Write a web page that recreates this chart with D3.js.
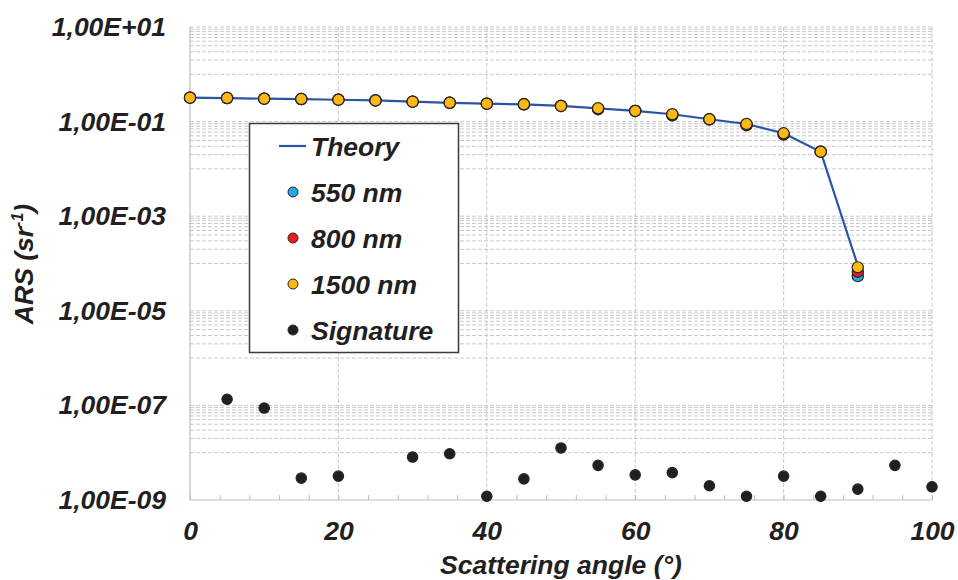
<!DOCTYPE html>
<html>
<head>
<meta charset="utf-8">
<script src="https://cdn.jsdelivr.net/npm/d3@7"></script>
<style>
  html, body { margin: 0; padding: 0; background: #fff; }
  svg { display: block; font-family: "Liberation Sans", Arial, sans-serif; }
</style>
</head>
<body>
<svg id="chart" width="958" height="580"></svg>
<script>
// angles (deg) for the measured / theory points
const angles = [0, 5, 10, 15, 20, 25, 30, 35, 40, 45, 50, 55, 60, 65, 70, 75, 80, 85, 90];

// ARS values (sr^-1)
const theory = [0.32, 0.315, 0.305, 0.30, 0.29, 0.28, 0.264, 0.25, 0.239, 0.232, 0.214, 0.191, 0.168, 0.143, 0.112, 0.089, 0.0566, 0.0231, 9.0e-5];
const nm550  = [0.32, 0.315, 0.305, 0.30, 0.29, 0.28, 0.264, 0.25, 0.239, 0.232, 0.214, 0.183, 0.168, 0.136, 0.112, 0.084, 0.0535, 0.0231, 5.4e-5];
const nm800  = [0.32, 0.315, 0.305, 0.30, 0.29, 0.28, 0.264, 0.25, 0.239, 0.232, 0.214, 0.185, 0.168, 0.138, 0.112, 0.085, 0.054, 0.0231, 6.7e-5];
const nm1500 = [0.32, 0.315, 0.305, 0.30, 0.29, 0.28, 0.264, 0.25, 0.239, 0.232, 0.214, 0.191, 0.168, 0.143, 0.112, 0.089, 0.0566, 0.0231, 8.3e-5];

// instrument signature
const sigAngles = [5, 10, 15, 20, 30, 35, 40, 45, 50, 55, 60, 65, 70, 75, 80, 85, 90, 95, 100];
const signature = [1.35e-7, 8.8e-8, 2.9e-9, 3.2e-9, 8.1e-9, 9.5e-9, 1.2e-9, 2.8e-9, 1.26e-8, 5.4e-9, 3.4e-9, 3.8e-9, 2.0e-9, 1.2e-9, 3.2e-9, 1.2e-9, 1.7e-9, 5.4e-9, 1.9e-9];

// axis ticks
const xTicks = [0, 20, 40, 60, 80, 100];
const yTicks = [1e1, 1e-1, 1e-3, 1e-5, 1e-7, 1e-9];

const legendNames = ["Theory", "550 nm", "800 nm", "1500 nm", "Signature"];
const colors = { theory: "#2a55a5", nm550: "#27a9e1", nm800: "#ed1c24", nm1500: "#fdb913", sig: "#231f20" };
const ink = "#231f20";
const fontSize = 26.5;

const svg = d3.select("#chart");

const x = d3.scaleLinear().domain([0, 100]).range([190, 932]);
const y = d3.scaleLog().domain([1e-9, 1e1]).range([500, 27]);

// grid: major lines at odd decades, minor lines 1..9 x even decades (like the excel base-100 axis)
const hLines = [];
yTicks.forEach(v => { if (v < 1e1 && v > 1e-9) hLines.push(v); });
hLines.push(1e1);
for (let e = -8; e <= 0; e += 2) {
  for (let m = 1; m <= 9; m++) hLines.push(m * Math.pow(10, e));
}

const grid = svg.append("g");
grid.selectAll("line.h")
  .data(hLines)
  .join("line")
  .attr("class", "h")
  .attr("x1", x(0)).attr("x2", x(100))
  .attr("y1", d => y(d)).attr("y2", d => y(d))
  .attr("stroke", "#c9c9c9")
  .attr("stroke-width", 1)
  .attr("stroke-dasharray", "4,2");

grid.selectAll("line.v")
  .data(xTicks.filter(d => d > 0))
  .join("line")
  .attr("class", "v")
  .attr("x1", d => x(d)).attr("x2", d => x(d))
  .attr("y1", y(1e1)).attr("y2", y(1e-9))
  .attr("stroke", "#c9c9c9")
  .attr("stroke-width", 1)
  .attr("stroke-dasharray", "4,2");

// solid axis lines (left + bottom)
svg.append("line")
  .attr("x1", x(0)).attr("x2", x(0))
  .attr("y1", y(1e1)).attr("y2", y(1e-9))
  .attr("stroke", "#bdbdbd").attr("stroke-width", 1.2);
svg.append("line")
  .attr("x1", x(0)).attr("x2", x(100))
  .attr("y1", y(1e-9)).attr("y2", y(1e-9))
  .attr("stroke", "#bdbdbd").attr("stroke-width", 1.2);

// minor ticks on the bottom axis
const minorX = svg.append("g")
  .attr("transform", `translate(0,${y(1e-9)})`)
  .call(d3.axisBottom(x).tickValues(d3.range(0, 101, 4)).tickSize(-5).tickFormat(""));
minorX.select(".domain").remove();
minorX.selectAll("line").attr("stroke", "#bdbdbd");

// helper for the bold italic text style
function styleText(sel) {
  sel.attr("font-size", fontSize)
    .attr("font-weight", 700)
    .attr("font-style", "italic")
    .attr("font-family", "Liberation Sans, Arial, sans-serif")
    .attr("fill", ink);
}

// x axis labels
const xAxis = svg.append("g")
  .attr("transform", `translate(0,${y(1e-9)})`)
  .call(d3.axisBottom(x).tickValues(xTicks).tickSize(0).tickPadding(21));
xAxis.select(".domain").remove();
xAxis.selectAll("text").call(styleText);

// y axis labels like 1,00E-01
const fmtY = d => {
  const e = Math.round(Math.log10(d));
  return "1,00E" + (e < 0 ? "-" : "+") + String(Math.abs(e)).padStart(2, "0");
};
const yAxis = svg.append("g")
  .attr("transform", `translate(${x(0)},0)`)
  .call(d3.axisLeft(y).tickValues(yTicks).tickFormat(fmtY).tickSize(0).tickPadding(24));
yAxis.select(".domain").remove();
yAxis.selectAll("text").call(styleText);

// axis titles
svg.append("text")
  .attr("x", (x(0) + x(100)) / 2)
  .attr("y", 574)
  .attr("text-anchor", "middle")
  .call(styleText)
  .text("Scattering angle (°)");

const yTitle = svg.append("text")
  .attr("transform", "translate(33,264) rotate(-90)")
  .attr("text-anchor", "middle")
  .call(styleText);
yTitle.append("tspan").text("ARS (sr");
yTitle.append("tspan").attr("dy", -10).attr("font-size", 16).text("-1");
yTitle.append("tspan").attr("dy", 10).text(")");

// theory line
const line = d3.line().x((d, i) => x(angles[i])).y(d => y(d));
svg.append("path")
  .datum(theory)
  .attr("d", line)
  .attr("fill", "none")
  .attr("stroke", colors.theory)
  .attr("stroke-width", 2.2);

// measured points: 550, 800 beneath 1500
function drawPoints(vals, xs, color, r) {
  svg.append("g")
    .selectAll("circle")
    .data(vals)
    .join("circle")
    .attr("cx", (d, i) => x(xs[i]))
    .attr("cy", d => y(d))
    .attr("r", r)
    .attr("fill", color)
    .attr("stroke", "#2b2323")
    .attr("stroke-width", 1.2);
}
drawPoints(nm550, angles, colors.nm550, 5.6);
drawPoints(nm800, angles, colors.nm800, 5.6);
drawPoints(nm1500, angles, colors.nm1500, 5.6);
drawPoints(signature, sigAngles, colors.sig, 5.2);

// legend
const legend = svg.append("g");
legend.append("rect")
  .attr("x", 249.5).attr("y", 123.5)
  .attr("width", 209).attr("height", 229)
  .attr("fill", "#fff")
  .attr("stroke", "#3a3a3a")
  .attr("stroke-width", 1.5);

const legendY = d3.scalePoint().domain(legendNames).range([146, 330]);
const legendColor = [colors.theory, colors.nm550, colors.nm800, colors.nm1500, colors.sig];

legendNames.forEach((name, i) => {
  const ly = legendY(name);
  if (i === 0) {
    legend.append("line")
      .attr("x1", 279).attr("x2", 306)
      .attr("y1", ly).attr("y2", ly)
      .attr("stroke", legendColor[i]).attr("stroke-width", 2.2);
  } else {
    legend.append("circle")
      .attr("cx", 293).attr("cy", ly).attr("r", 5)
      .attr("fill", legendColor[i])
      .attr("stroke", "#2b2323").attr("stroke-width", 1);
  }
  legend.append("text")
    .attr("x", 311).attr("y", ly + 9.5)
    .call(styleText)
    .text(name);
});
</script>
</body>
</html>
